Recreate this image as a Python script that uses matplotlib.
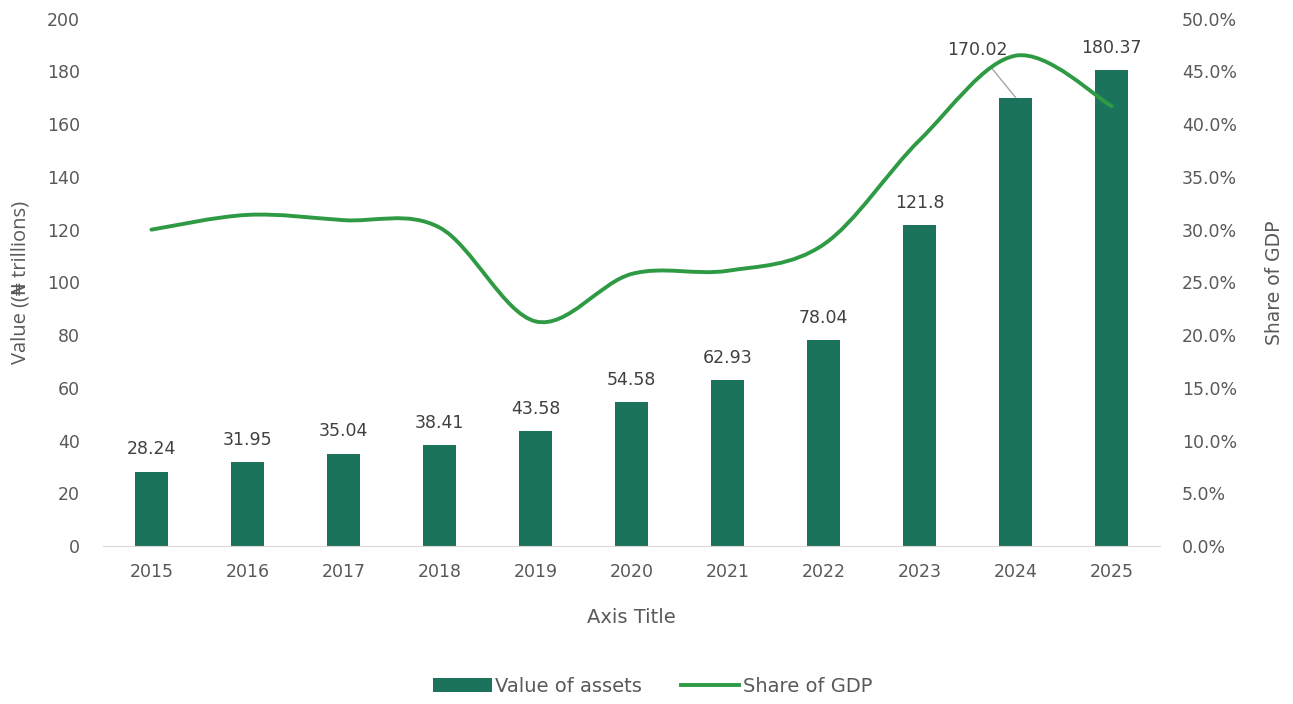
import matplotlib.pyplot as plt
import numpy as np
from matplotlib.path import Path
from matplotlib.patches import PathPatch
from matplotlib.lines import Line2D
from matplotlib.ticker import PercentFormatter

plt.rcParams['font.family'] = ['DejaVu Sans']

years = ['2015', '2016', '2017', '2018', '2019', '2020',
         '2021', '2022', '2023', '2024', '2025']
asset_value = [28.24, 31.95, 35.04, 38.41, 43.58, 54.58,
               62.93, 78.04, 121.8, 170.02, 180.37]
gdp_share = [30.0, 31.4, 30.9, 30.2, 21.3, 25.8,
             26.1, 28.6, 38.5, 46.5, 41.7]

bar_color = '#1b735c'
line_color = '#2f9a44'
text_color = '#595959'

fig = plt.figure(figsize=(12.93, 7.04), dpi=100)
ax = fig.add_axes([0.080, 0.2244, 0.817, 0.749])
ax2 = ax.twinx()

x = np.arange(len(years))
bars = ax.bar(x, asset_value, width=0.34, color=bar_color, zorder=2)

ax.set_xlim(-0.5, len(years) - 0.5)
ax.set_ylim(0, 200)
ax.set_yticks(np.arange(0, 201, 20))
ax.set_xticks(x)
ax.set_xticklabels(years)
ax2.set_ylim(0, 50)
ax2.set_yticks(np.arange(0, 50.1, 5))
ax2.yaxis.set_major_formatter(PercentFormatter(decimals=1))

for a in (ax, ax2):
    for s in a.spines.values():
        s.set_visible(False)
    a.tick_params(length=0, labelsize=12.5, colors=text_color)
ax.spines['bottom'].set_visible(True)
ax.spines['bottom'].set_color('#d9d9d9')
ax.tick_params(axis='x', pad=12)
ax.tick_params(axis='y', pad=17)
ax2.tick_params(axis='y', pad=16)

ax.set_xlabel('Axis Title', fontsize=14, color=text_color, labelpad=20)
ax.set_ylabel('Value ((\u20a6 trillions)', fontsize=14.5, color=text_color,
              labelpad=12, family=['Open Sans', 'DejaVu Sans'])
ax2.set_ylabel('Share of GDP', fontsize=13.5, color=text_color, labelpad=20)

# data labels; 2024 label sits off the bar with a leader line
for xi, v in zip(x, asset_value):
    label = f'{v:g}'
    if label == '170.02':
        ax.annotate(label, xy=(xi, v), xytext=(xi - 0.4, v + 18),
                    ha='center', va='center', fontsize=12.5, color='#404040',
                    arrowprops=dict(arrowstyle='-', color='#a6a6a6', lw=1,
                                    shrinkA=6, shrinkB=0), zorder=5)
    else:
        ax.text(xi, v + 5, label, ha='center', va='bottom',
                fontsize=12.5, color='#404040')

# smoothed share line as cubic bezier segments through the data points
pts = np.column_stack([x, gdp_share]).astype(float)
verts = [tuple(pts[0])]
codes = [Path.MOVETO]
n = len(pts)
for i in range(n - 1):
    p0 = pts[max(i - 1, 0)]
    p1 = pts[i]
    p2 = pts[i + 1]
    p3 = pts[min(i + 2, n - 1)]
    c1 = p1 + (p2 - p0) / 6
    c2 = p2 - (p3 - p1) / 6
    verts += [tuple(c1), tuple(c2), tuple(p2)]
    codes += [Path.CURVE4] * 3
ax2.add_patch(PathPatch(Path(verts, codes), facecolor='none',
                        edgecolor=line_color, lw=2.8, capstyle='round',
                        zorder=4))

handles = [bars, Line2D([], [], color=line_color, lw=2.8)]
fig.legend(handles, ['Value of assets', 'Share of GDP'], loc='center',
           bbox_to_anchor=(0.505, 0.025), ncol=2, frameon=False,
           fontsize=14, labelcolor=text_color, handlelength=3.0,
           handletextpad=0.2, columnspacing=2.0)

fig.savefig('out.png', dpi=100)
